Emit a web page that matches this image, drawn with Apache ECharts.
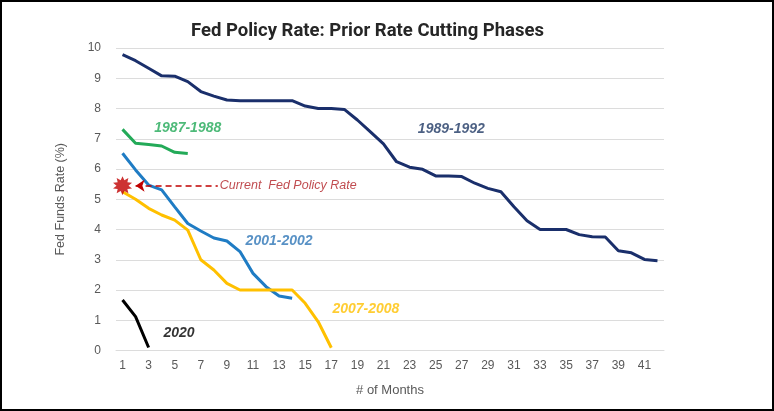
<!DOCTYPE html>
<html>
<head>
<meta charset="utf-8">
<script src="https://cdn.jsdelivr.net/npm/echarts@6/dist/echarts.min.js"></script>
<style>
html,body{margin:0;padding:0;background:#fff;}
#chart{width:774px;height:411px;}
</style>
</head>
<body>
<div id="chart"></div>
<script>
// ---- data ----
const months = Array.from({length: 42}, (_, i) => String(i + 1));
const s1987 = [7.31, 6.85, 6.81, 6.76, 6.55, 6.51];
const s1989 = [9.78, 9.58, 9.33, 9.08, 9.07, 8.89, 8.56, 8.41, 8.28, 8.26, 8.26, 8.26, 8.26, 8.26, 8.08, 8.0, 8.0, 7.97, 7.62, 7.23, 6.83, 6.24, 6.06, 5.99, 5.77, 5.77, 5.75, 5.53, 5.36, 5.25, 4.75, 4.29, 4.0, 4.0, 4.0, 3.83, 3.76, 3.75, 3.3, 3.23, 3.01, 2.97];
const s2001 = [6.52, 5.97, 5.47, 5.31, 4.75, 4.2, 3.95, 3.72, 3.62, 3.27, 2.55, 2.11, 1.8, 1.73];
const s2007 = [5.25, 5.0, 4.7, 4.48, 4.31, 3.98, 3.0, 2.66, 2.22, 2.0, 2.0, 2.0, 2.0, 2.0, 1.56, 0.95, 0.09];
const s2020 = [1.67, 1.12, 0.1];
const currentRate = [1, 5.45];
const arrowFrom = [2.0, 5.45];
const arrowTo = [8.3, 5.45];
const seriesLabels = [
  {text: '1987-1988', x: 6.0, y: 7.36, color: '#22A957'},
  {text: '1989-1992', x: 26.2, y: 7.32, color: '#1F3864'},
  {text: '2001-2002', x: 13.0, y: 3.62, color: '#2E75B6'},
  {text: '2007-2008', x: 19.65, y: 1.37, color: '#FFC000'},
  {text: '2020', x: 5.33, y: 0.58, color: '#000000'}
];
const noteText = 'Current  Fed Policy Rate';
const notePos = [8.45, 5.47];

// ---- star symbol shape ----
function starPath(n, ro, ri) {
  let d = '';
  for (let i = 0; i < 2 * n; i++) {
    const r = i % 2 === 0 ? ro : ri;
    const a = Math.PI * i / n - Math.PI / 2;
    const px = (r * Math.cos(a) + ro).toFixed(2);
    const py = (r * Math.sin(a) + ro).toFixed(2);
    d += (i === 0 ? 'M' : 'L') + px + ' ' + py + ' ';
  }
  return 'path://' + d + 'Z';
}

const chart = echarts.init(document.getElementById('chart'), null, {renderer: 'canvas'});
const axisFont = 'Liberation Sans';
const lineSeries = (name, data, color) => ({
  name, type: 'line', data, xAxisIndex: 0, yAxisIndex: 0,
  showSymbol: false, symbol: 'none', smooth: false,
  lineStyle: {color, width: 3}, z: 3
});

chart.setOption({
  animation: false,
  backgroundColor: '#fff',
  title: {
    text: 'Fed Policy Rate: Prior Rate Cutting Phases',
    left: 186, top: 17,
    textStyle: {fontFamily: 'Liberation Sans Narrow, Roboto', fontWeight: 'bold', fontSize: 18.5, color: '#262626'}
  },
  graphic: [{
    type: 'rect', shape: {x: 1, y: 1, width: 772, height: 409},
    style: {fill: 'none', stroke: '#000', lineWidth: 2}, z: 100, silent: true
  }],
  grid: {left: 116, right: 110, top: 48, bottom: 60.5},
  xAxis: [{
    type: 'category', data: months, boundaryGap: true,
    axisLine: {show: true, lineStyle: {color: '#DCDCDC'}},
    axisTick: {show: false},
    axisLabel: {interval: 1, color: '#595959', fontFamily: axisFont, fontSize: 12, margin: 9},
    splitLine: {show: false},
    name: '# of Months', nameLocation: 'middle', nameGap: 33,
    nameTextStyle: {color: '#595959', fontFamily: axisFont, fontSize: 13}
  }, {
    type: 'value', min: 0.5, max: 42.5, show: false
  }],
  yAxis: {
    type: 'value', min: 0, max: 10, interval: 1,
    axisLine: {show: false}, axisTick: {show: false},
    axisLabel: {color: '#595959', fontFamily: axisFont, fontSize: 12, margin: 15},
    splitLine: {lineStyle: {color: '#DCDCDC', width: 1}},
    name: 'Fed Funds Rate (%)', nameLocation: 'middle', nameGap: 49,
    nameTextStyle: {color: '#595959', fontFamily: axisFont, fontSize: 12.5}
  },
  series: [
    lineSeries('1989-1992', s1989, '#1A2F6B'),
    lineSeries('1987-1988', s1987, '#23AA58'),
    lineSeries('2001-2002', s2001, '#1F7CC4'),
    lineSeries('2007-2008', s2007, '#FFC000'),
    lineSeries('2020', s2020, '#000000'),
    {
      type: 'scatter', xAxisIndex: 1, yAxisIndex: 0,
      data: [currentRate], symbol: starPath(10, 10, 6), symbolSize: 19,
      itemStyle: {color: '#C00000'}, z: 5,
      markLine: {
        silent: true, symbol: ['arrow', 'none'], symbolSize: [9, 9],
        label: {show: false},
        lineStyle: {type: [6, 4], color: '#C00000', width: 1.5},
        data: [[{coord: arrowFrom}, {coord: arrowTo}]]
      }
    },
    {
      type: 'scatter', xAxisIndex: 1, yAxisIndex: 0, symbolSize: 0,
      data: seriesLabels.map(l => ({
        value: [l.x, l.y],
        label: {show: true, position: 'inside', formatter: l.text, color: l.color,
          fontFamily: 'Liberation Sans', fontStyle: 'italic', fontWeight: 'bold', fontSize: 14}
      })), z: 6
    },
    {
      type: 'scatter', xAxisIndex: 1, yAxisIndex: 0, symbolSize: 0,
      data: [{value: notePos, label: {show: true, position: 'right', distance: 0, formatter: noteText,
        color: '#B01E23', fontFamily: 'Liberation Sans', fontStyle: 'italic', fontSize: 12.5}}], z: 6
    }
  ]
});
</script>
</body>
</html>
